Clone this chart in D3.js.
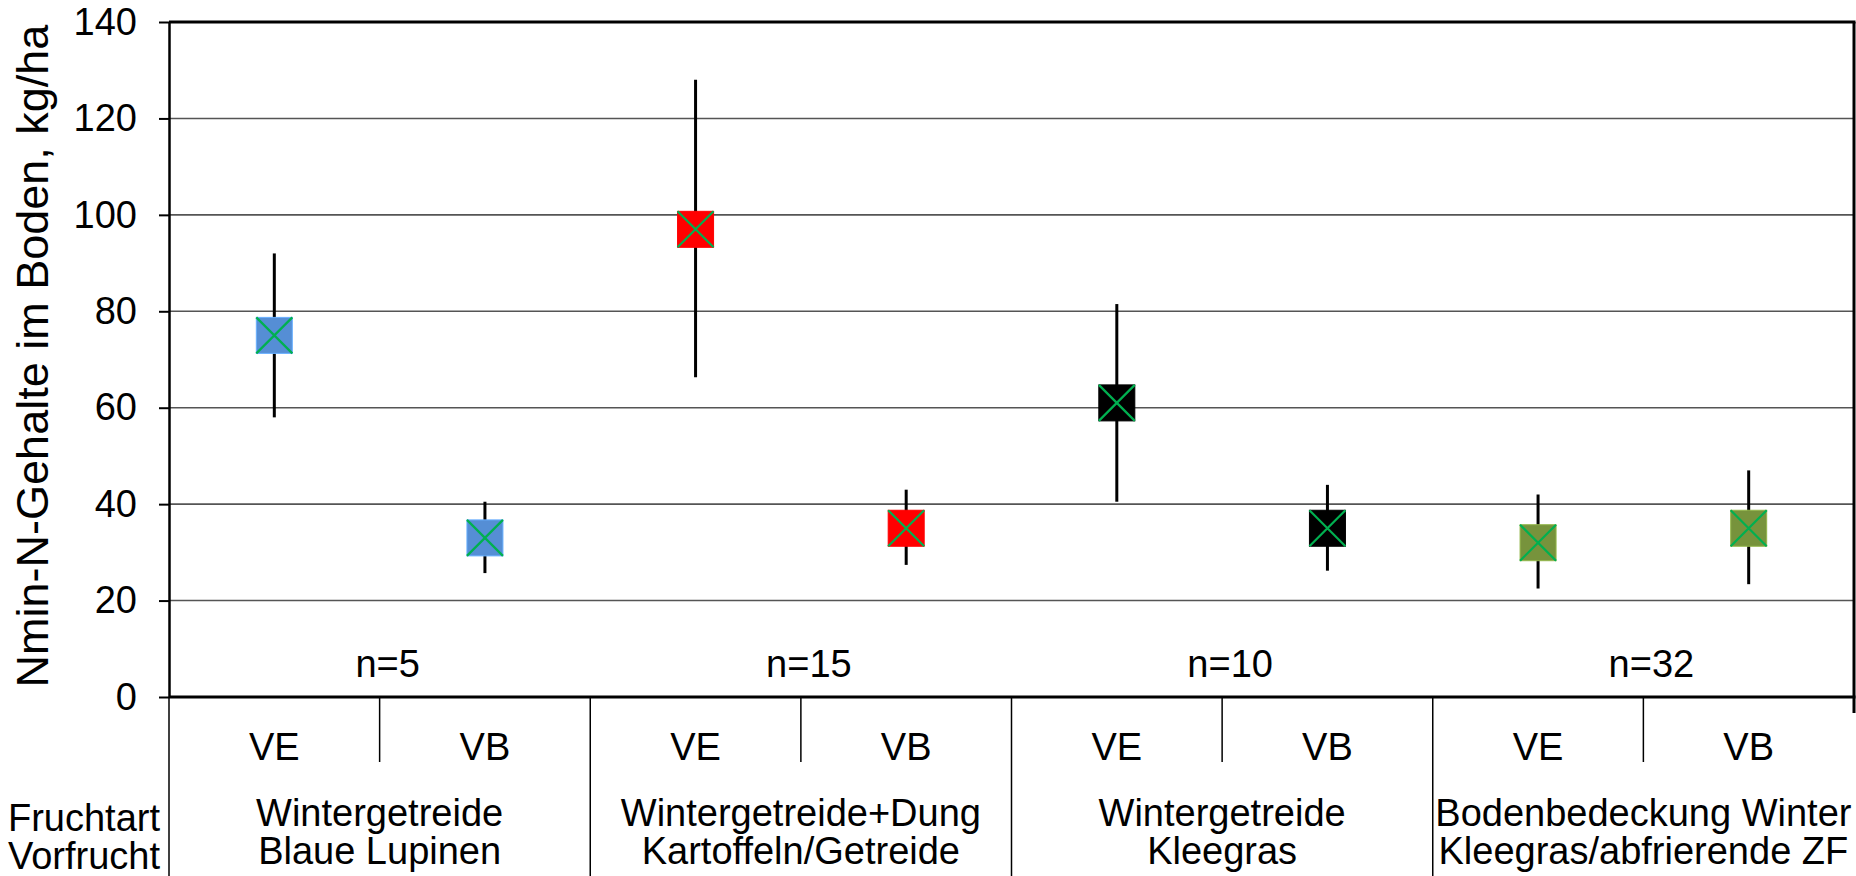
<!DOCTYPE html>
<html>
<head>
<meta charset="utf-8">
<script src="https://cdn.jsdelivr.net/npm/d3@7"></script>
<style>
  body { margin: 0; background: #fff; }
  svg { display: block; font-family: "Liberation Sans", Arial, sans-serif; }
</style>
</head>
<body>
<div id="chart"></div>
<script>
// Daten
var gruppen = ["Wintergetreide|Blaue Lupinen", "Wintergetreide+Dung|Kartoffeln/Getreide", "Wintergetreide|Kleegras", "Bodenbedeckung Winter|Kleegras/abfrierende ZF"];
var anzahl = ["n=5", "n=15", "n=10", "n=32"];
var varianten = ["VE", "VB"];
var mittel = [[75, 33], [97, 35], [61, 35], [32, 35]];
var maxima = [[92, 40.5], [128, 43], [81.5, 44], [42, 47]];
var minima = [[58, 25.7], [66.3, 27.4], [40.5, 26.2], [22.5, 23.4]];
var farben = ["#558ED5", "#FF0000", "#000000", "#77933C"];
var yTicks = [0, 20, 40, 60, 80, 100, 120, 140];

var totalWidth = 1856, totalHeight = 876,
    plotLeft = 169, plotRight = 1854, plotTop = 22, plotBottom = 697,
    fs = 38;

var svg = d3.select("#chart").append("svg")
    .attr("width", totalWidth)
    .attr("height", totalHeight);

var punkte = [];
gruppen.forEach(function(g, i) {
    varianten.forEach(function(v, j) {
        punkte.push({ gruppe: i, key: i + "-" + v, variante: v, mittel: mittel[i][j], max: maxima[i][j], min: minima[i][j] });
    });
});

var x = d3.scaleBand()
    .domain(punkte.map(function(d) { return d.key; }))
    .range([plotLeft, plotRight]);
var xg = d3.scaleBand()
    .domain(d3.range(gruppen.length))
    .range([plotLeft, plotRight]);
var y = d3.scaleLinear()
    .domain([0, 140])
    .range([plotBottom, plotTop]);

// Gitterlinien
svg.append("g")
    .selectAll("line")
    .data(yTicks.filter(function(d) { return d > 0 && d < 140; }))
    .join("line")
      .attr("x1", plotLeft).attr("x2", plotRight)
      .attr("y1", function(d) { return y(d); })
      .attr("y2", function(d) { return y(d); })
      .attr("stroke", "#555")
      .attr("stroke-width", 1.6);

// Rahmen
svg.append("line").attr("x1", plotLeft).attr("x2", plotRight + 1.5).attr("y1", plotTop).attr("y2", plotTop)
    .attr("stroke", "#000").attr("stroke-width", 3);
svg.append("line").attr("x1", plotRight).attr("x2", plotRight).attr("y1", plotTop).attr("y2", plotBottom + 16)
    .attr("stroke", "#000").attr("stroke-width", 3);

// y-Achse
var yAxis = svg.append("g")
    .attr("transform", "translate(" + plotLeft + ",0)")
    .call(d3.axisLeft(y).tickValues(yTicks).tickSize(10).tickPadding(22).tickSizeOuter(0));
yAxis.select(".domain").attr("stroke-width", 2.5);
yAxis.selectAll(".tick line").attr("stroke-width", 2);
yAxis.selectAll("text")
    .attr("font-size", fs)
    .attr("font-family", "Liberation Sans, Arial, sans-serif")
    .attr("fill", "#000");

svg.append("text")
    .attr("transform", "translate(48,356) rotate(-90)")
    .attr("text-anchor", "middle")
    .attr("font-size", 45)
    .text("Nmin-N-Gehalte im Boden, kg/ha");

// Fehlerbalken
svg.append("g")
    .selectAll("line")
    .data(punkte)
    .join("line")
      .attr("x1", function(d) { return x(d.key) + x.bandwidth() / 2; })
      .attr("x2", function(d) { return x(d.key) + x.bandwidth() / 2; })
      .attr("y1", function(d) { return y(d.max); })
      .attr("y2", function(d) { return y(d.min); })
      .attr("stroke", "#000")
      .attr("stroke-width", 3);

// Marker
var s = 36;
var marker = svg.append("g")
    .selectAll("g")
    .data(punkte)
    .join("g")
      .attr("transform", function(d) {
          return "translate(" + (x(d.key) + x.bandwidth() / 2) + "," + y(d.mittel) + ")";
      });
marker.append("rect")
    .attr("x", -s / 2).attr("y", -s / 2)
    .attr("width", s).attr("height", s)
    .attr("fill", function(d) { return farben[d.gruppe]; })
    .attr("stroke", function(d) { return d3.color(farben[d.gruppe]).brighter(0.6); })
    .attr("stroke-width", 1);
marker.append("path")
    .attr("d", "M" + (-s / 2) + "," + (-s / 2) + "L" + (s / 2) + "," + (s / 2) +
               "M" + (s / 2) + "," + (-s / 2) + "L" + (-s / 2) + "," + (s / 2))
    .attr("stroke", "#00B050")
    .attr("stroke-width", 2.2)
    .attr("fill", "none");

// n-Beschriftungen
svg.append("g")
    .selectAll("text")
    .data(anzahl)
    .join("text")
      .attr("x", function(d, i) { return xg(i) + xg.bandwidth() / 2 + 8; })
      .attr("y", 677)
      .attr("text-anchor", "middle")
      .attr("font-size", fs)
      .text(function(d) { return d; });

// Kategorienachse
svg.append("line").attr("x1", plotLeft).attr("x2", plotRight + 1.5).attr("y1", plotBottom).attr("y2", plotBottom)
    .attr("stroke", "#000").attr("stroke-width", 3);
svg.append("line").attr("x1", plotLeft).attr("x2", plotLeft).attr("y1", plotBottom).attr("y2", totalHeight)
    .attr("stroke", "#000").attr("stroke-width", 1.5);

svg.append("g")
    .selectAll("line")
    .data(d3.range(1, gruppen.length))
    .join("line")
      .attr("x1", function(d) { return xg(d); })
      .attr("x2", function(d) { return xg(d); })
      .attr("y1", plotBottom).attr("y2", totalHeight)
      .attr("stroke", "#000").attr("stroke-width", 1.5);

svg.append("g")
    .selectAll("line")
    .data(d3.range(gruppen.length))
    .join("line")
      .attr("x1", function(d) { return xg(d) + xg.bandwidth() / 2; })
      .attr("x2", function(d) { return xg(d) + xg.bandwidth() / 2; })
      .attr("y1", plotBottom).attr("y2", 762)
      .attr("stroke", "#000").attr("stroke-width", 1.5);

svg.append("g")
    .selectAll("text")
    .data(punkte)
    .join("text")
      .attr("x", function(d) { return x(d.key) + x.bandwidth() / 2; })
      .attr("y", 760)
      .attr("text-anchor", "middle")
      .attr("font-size", fs)
      .text(function(d) { return d.variante; });

var gl = svg.append("g")
    .selectAll("text")
    .data(gruppen)
    .join("text")
      .attr("text-anchor", "middle")
      .attr("font-size", fs);
gl.append("tspan")
    .attr("x", function(d, i) { return xg(i) + xg.bandwidth() / 2; })
    .attr("y", 826)
    .text(function(d) { return d.split("|")[0]; });
gl.append("tspan")
    .attr("x", function(d, i) { return xg(i) + xg.bandwidth() / 2; })
    .attr("y", 864)
    .text(function(d) { return d.split("|")[1]; });

svg.append("text").attr("x", 160).attr("y", 831).attr("text-anchor", "end")
    .attr("font-size", fs).text("Fruchtart");
svg.append("text").attr("x", 160).attr("y", 869).attr("text-anchor", "end")
    .attr("font-size", fs).text("Vorfrucht");
</script>
</body>
</html>
